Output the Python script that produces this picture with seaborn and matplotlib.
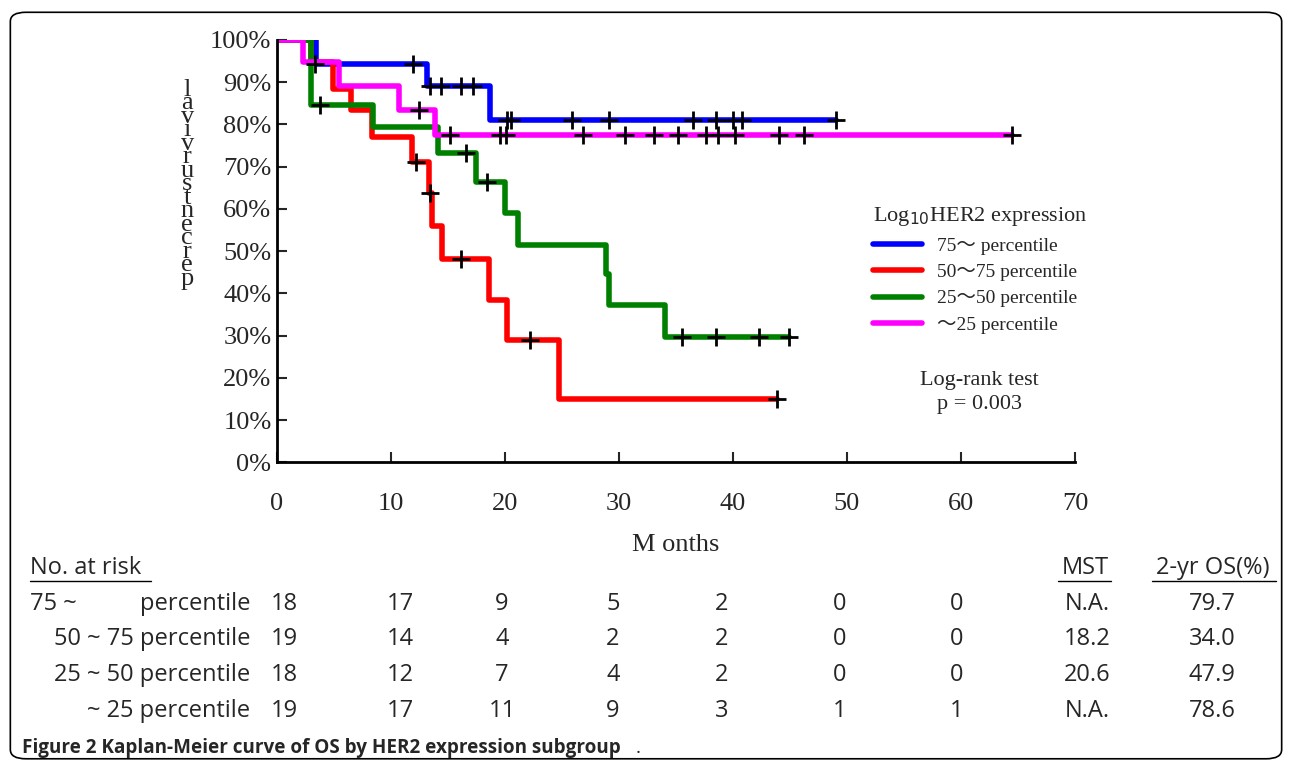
import matplotlib
matplotlib.use("Agg")
import matplotlib.pyplot as plt
from matplotlib.patches import FancyBboxPatch
from matplotlib.lines import Line2D
import seaborn as sns
import pandas as pd

# KM step curves: (month, survival %) at each drop
groups = ["75～ percentile", "50～75 percentile", "25～50 percentile", "～25 percentile"]
colors = ["#0000ff", "#ff0000", "#008000", "#ff00ff"]

blue_t = [0, 3.4, 13.2, 18.7, 49]
blue_s = [100, 94.4, 89.0, 81.0, 81.0]
red_t = [0, 3.0, 4.9, 6.5, 8.3, 11.8, 13.3, 13.6, 14.5, 18.6, 20.2, 24.7, 43.9]
red_s = [100, 94.7, 88.5, 83.4, 77.1, 71.0, 63.7, 56.0, 48.1, 38.4, 28.9, 14.9, 14.9]
green_t = [0, 3.0, 8.4, 14.1, 17.5, 20.0, 21.1, 28.9, 29.1, 34.0, 44.9]
green_s = [100, 84.6, 79.4, 73.2, 66.4, 59.1, 51.4, 44.5, 37.2, 29.7, 29.7]
mag_t = [0, 2.3, 5.4, 10.7, 13.9, 64.5]
mag_s = [100, 94.7, 89.0, 83.3, 77.5, 77.5]

# censored observations
blue_c = [3.3, 11.9, 13.4, 14.4, 16.1, 17.2, 20.2, 20.5, 25.9, 29.1, 36.5, 38.5, 40.0, 40.8, 49.0]
blue_cs = [94.4, 94.4, 89, 89, 89, 89] + [81.0] * 9
red_c = [12.2, 13.4, 16.1, 22.2, 43.9]
red_cs = [71.0, 63.7, 48.1, 28.9, 14.9]
green_c = [3.8, 16.6, 18.4, 35.5, 38.5, 42.3, 44.9]
green_cs = [84.6, 73.2, 66.4, 29.7, 29.7, 29.7, 29.7]
mag_c = [12.5, 15.2, 19.6, 20.1, 26.8, 30.5, 33.1, 35.2, 37.6, 38.7, 40.2, 44.0, 46.2, 64.5]
mag_cs = [83.3] + [77.5] * 13

risk_rows = [
    ["18", "17", "9", "5", "2", "0", "0"],
    ["19", "14", "4", "2", "2", "0", "0"],
    ["18", "12", "7", "4", "2", "0", "0"],
    ["19", "17", "11", "9", "3", "1", "1"],
]
mst = ["N.A.", "18.2", "20.6", "N.A."]
os2 = ["79.7", "34.0", "47.9", "78.6"]

curves = pd.concat([
    pd.DataFrame({"t": t, "s": s, "g": g})
    for t, s, g in zip([blue_t, red_t, green_t, mag_t], [blue_s, red_s, green_s, mag_s], groups)
])
cens = pd.DataFrame({"t": blue_c + red_c + green_c + mag_c,
                     "s": blue_cs + red_cs + green_cs + mag_cs})

sns.set_style("white")
plt.rcParams["font.family"] = ["Liberation Serif", "Noto Sans CJK JP", "DejaVu Serif"]

fig = plt.figure(figsize=(12.92, 7.68), dpi=100)
ax = fig.add_axes([0.2144, 0.398, 0.6176, 0.55])
sns.lineplot(data=curves, x="t", y="s", hue="g", palette=colors, drawstyle="steps-post",
             estimator=None, sort=False, linewidth=4, ax=ax, legend=False)
sns.scatterplot(data=cens, x="t", y="s", marker="+", s=160, color="black", linewidth=2,
                ax=ax, zorder=5)
ax.set_xlim(0, 70)
ax.set_ylim(0, 100)
ax.set_xticks(range(0, 71, 10))
ax.set_yticks(range(0, 101, 10))
ax.set_yticklabels([f"{v}%" for v in range(0, 101, 10)])
ax.tick_params(axis="both", direction="in", length=7, width=1.5, labelsize=19, left=True, bottom=True)
ax.tick_params(axis="x", pad=22)
ax.tick_params(axis="y", pad=4)
for sp in ["top", "right"]:
    ax.spines[sp].set_visible(False)
for sp in ["left", "bottom"]:
    ax.spines[sp].set_linewidth(2)
    ax.spines[sp].set_color("black")
ax.set_xlabel("M onths", fontsize=19, labelpad=14)
ax.set_ylabel("")
fig.text(0.145, 0.76, "\n".join(reversed("percentsurvival")), fontsize=19, ha="center",
         va="center", linespacing=0.5)

handles = [Line2D([], [], color=c, lw=4) for c in colors]
leg = ax.legend(handles, groups, title="Log$_{10}$HER2 expression", loc="upper left",
                bbox_to_anchor=(0.725, 0.65), frameon=False, fontsize=14, handlelength=2.5,
                title_fontsize=16, labelspacing=0.45)
leg._legend_box.align = "left"
ax.text(0.88, 0.165, "Log-rank test\np = 0.003", transform=ax.transAxes, fontsize=16,
        ha="center", va="center", linespacing=1.4)

# number at risk table
sans = ["Open Sans", "Noto Sans CJK JP", "DejaVu Sans"]
def px(x, y):
    return x / 1292, 1 - y / 768

fig.text(*px(30, 568), "No. at risk", fontsize=17, family=sans, va="center")
fig.add_artist(Line2D([30 / 1292, 151 / 1292], [1 - 581 / 768] * 2, color="black", lw=1))
fig.text(*px(1085, 568), "MST", fontsize=17, family=sans, va="center", ha="center")
fig.add_artist(Line2D([1058 / 1292, 1111 / 1292], [1 - 581 / 768] * 2, color="black", lw=1))
fig.text(*px(1213, 568), "2-yr OS(%)", fontsize=17, family=sans, va="center", ha="center")
fig.add_artist(Line2D([1152 / 1292, 1276 / 1292], [1 - 581 / 768] * 2, color="black", lw=1))

row_labels = ["percentile", "50 ~ 75 percentile", "25 ~ 50 percentile", "~ 25 percentile"]
col_x = [284, 400, 502, 613, 722, 840, 957]
for i, ry in enumerate([604, 639, 675, 711]):
    fig.text(*px(250, ry), row_labels[i], fontsize=17, family=sans, va="center", ha="right")
    if i == 0:
        fig.text(*px(30, ry), "75 ~", fontsize=17, family=sans, va="center")
    for x, v in zip(col_x, risk_rows[i]):
        fig.text(*px(x, ry), v, fontsize=17, family=sans, va="center", ha="center")
    fig.text(*px(1087, ry), mst[i], fontsize=17, family=sans, va="center", ha="center")
    fig.text(*px(1212, ry), os2[i], fontsize=17, family=sans, va="center", ha="center")

fig.text(*px(22, 748), "Figure 2 Kaplan-Meier curve of OS by HER2 expression subgroup", fontsize=13.6,
         family=sans, weight="bold", va="center")
fig.text(*px(636, 748), ".", fontsize=13.6, family=sans, va="center")

fig.add_artist(FancyBboxPatch((0.008, 0.012), 0.984, 0.972, boxstyle="round,pad=0,rounding_size=0.012",
                              transform=fig.transFigure, fill=False, ec="black", lw=1.2))

fig.savefig("out.png", dpi=100)
